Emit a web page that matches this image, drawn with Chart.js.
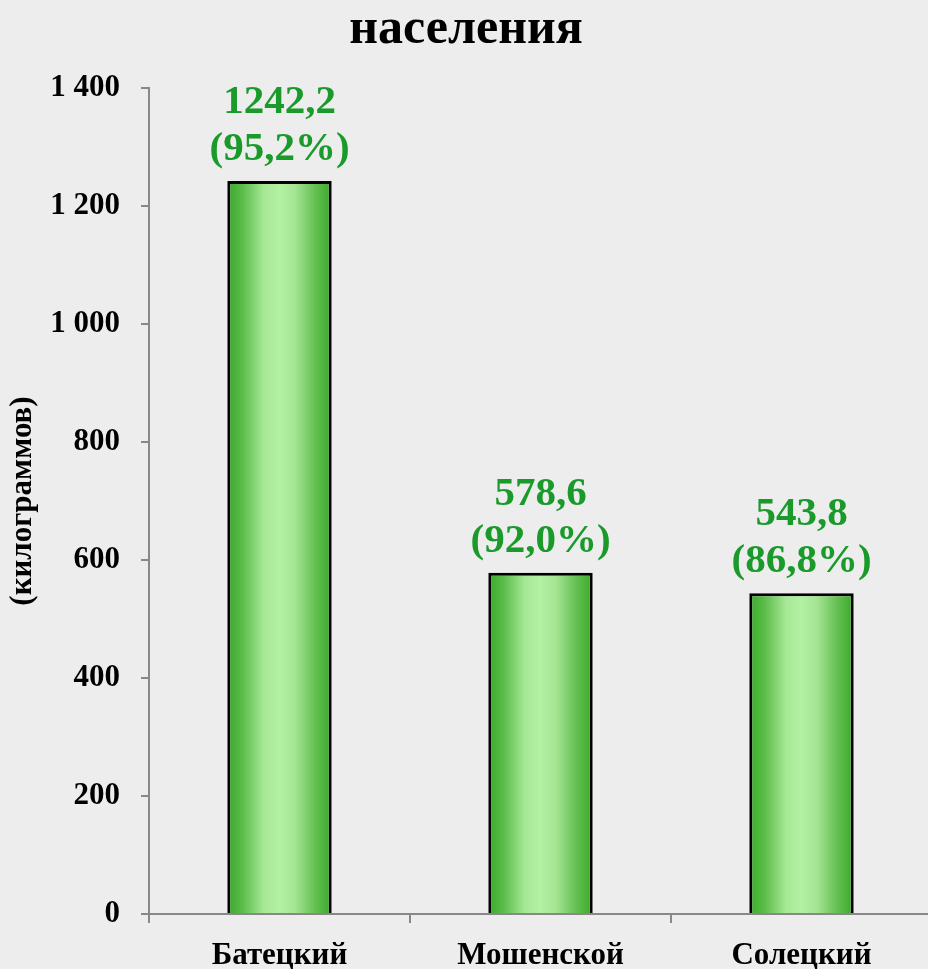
<!DOCTYPE html>
<html>
<head>
<meta charset="utf-8">
<script src="https://cdn.jsdelivr.net/npm/chart.js@4.4.1/dist/chart.umd.min.js"></script>
<style>
  html, body { margin: 0; padding: 0; background: #ededed; overflow: hidden; width: 928px; height: 969px; }
  #wrap { width: 934px; height: 969px; }
  canvas { display: block; }
</style>
</head>
<body>
<div id="wrap"><canvas id="c" width="934" height="969"></canvas></div>
<script>
const titleText = 'населения';
const yAxisTitle = '(килограммов)';
const categories = ['Батецкий', 'Мошенской', 'Солецкий'];
const values = [1242.2, 578.6, 543.8];
const valueLabels = ['1242,2', '578,6', '543,8'];
const percentLabels = ['(95,2%)', '(92,0%)', '(86,8%)'];
const yTickValues = [0, 200, 400, 600, 800, 1000, 1200, 1400];
const yTickLabels = ['0', '200', '400', '600', '800', '1 000', '1 200', '1 400'];

const FONT = "'Liberation Serif', 'Times New Roman', serif";
const BAR_PCT = 0.4;

function barGradient(context) {
  const chart = context.chart;
  const xs = chart.scales && chart.scales.x;
  if (!xs || context.dataIndex === undefined || !isFinite(xs.left)) return '#6cc85a';
  const cx = xs.getPixelForValue(context.dataIndex);
  const w = (xs.width / categories.length) * BAR_PCT;
  const g = chart.ctx.createLinearGradient(cx - w / 2, 0, cx + w / 2, 0);
  g.addColorStop(0, '#38a928');
  g.addColorStop(0.15, '#5dbd4b');
  g.addColorStop(0.35, '#a6e896');
  g.addColorStop(0.5, '#b3f1a3');
  g.addColorStop(0.65, '#a4e493');
  g.addColorStop(0.85, '#62bf50');
  g.addColorStop(1, '#38a928');
  return g;
}

const bgPlugin = {
  id: 'bg',
  beforeDraw(chart) {
    const ctx = chart.ctx;
    ctx.save();
    ctx.fillStyle = '#ededed';
    ctx.fillRect(0, 0, chart.width, chart.height);
    ctx.restore();
  }
};

const labelPlugin = {
  id: 'valueLabels',
  afterDatasetsDraw(chart) {
    const ctx = chart.ctx;
    const meta = chart.getDatasetMeta(0);
    ctx.save();
    ctx.fillStyle = '#1a9a2a';
    ctx.font = 'bold 41px ' + FONT;
    ctx.textAlign = 'center';
    ctx.textBaseline = 'alphabetic';
    meta.data.forEach((bar, i) => {
      ctx.fillText(percentLabels[i], bar.x, bar.y - 21);
      ctx.fillText(valueLabels[i], bar.x, bar.y - 68);
    });
    ctx.restore();
  }
};

new Chart(document.getElementById('c'), {
  type: 'bar',
  data: {
    labels: categories,
    datasets: [{
      data: values,
      backgroundColor: barGradient,
      borderColor: '#000000',
      borderWidth: 3,
      barPercentage: BAR_PCT,
      categoryPercentage: 1.0
    }]
  },
  options: {
    responsive: false,
    animation: false,
    devicePixelRatio: 1,
    layout: { padding: { left: 0, right: 2, top: 0, bottom: 0 } },
    plugins: {
      legend: { display: false },
      tooltip: { enabled: false },
      title: {
        display: true,
        text: titleText,
        color: '#000000',
        font: { family: FONT, size: 50, weight: 'bold', lineHeight: 1.0 },
        padding: { top: 5, bottom: 33 }
      }
    },
    scales: {
      x: {
        grid: { display: true, offset: true, drawOnChartArea: false, tickLength: 9, color: '#888888', lineWidth: 2 },
        border: { display: true, color: '#888888', width: 2 },
        ticks: { color: '#000000', font: { family: FONT, size: 31, weight: 'bold' }, padding: 14, maxRotation: 0 },
        afterFit(s) { s.height = 55; }
      },
      y: {
        min: 0, max: 1400,
        afterBuildTicks(s) { s.ticks = yTickValues.map(v => ({ value: v })); },
        grid: { display: true, drawOnChartArea: false, tickLength: 8, color: '#888888', lineWidth: 2 },
        border: { display: true, color: '#888888', width: 2 },
        ticks: {
          color: '#000000',
          font: { family: FONT, size: 31, weight: 'bold' },
          padding: 21,
          callback(v, i) { const k = yTickValues.indexOf(v); return k >= 0 ? yTickLabels[k] : ''; }
        },
        title: {
          display: true,
          text: yAxisTitle,
          color: '#000000',
          font: { family: FONT, size: 31, weight: 'bold', lineHeight: 1.2 },
          padding: { top: 4, bottom: 0 }
        },
        afterFit(s) { s.width = 149; }
      }
    }
  },
  plugins: [bgPlugin, labelPlugin]
});
</script>
</body>
</html>
